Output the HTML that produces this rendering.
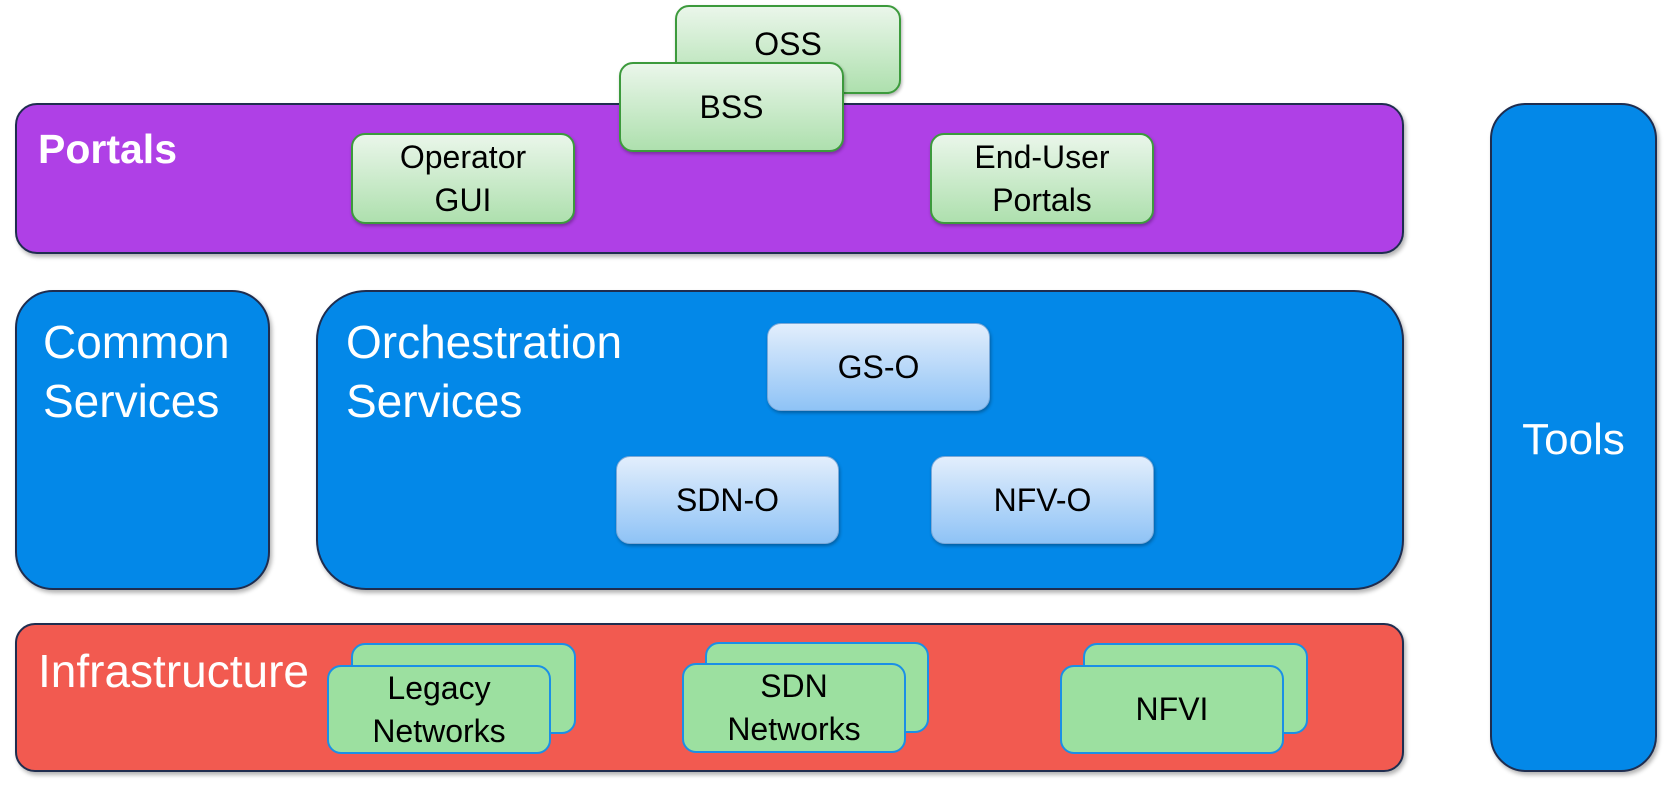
<!DOCTYPE html>
<html><head><meta charset="utf-8"><style>
body{margin:0;width:1678px;height:788px;background:#fff;position:relative;overflow:hidden;font-family:"Liberation Sans",sans-serif}
.b{position:absolute;box-sizing:border-box;border:2px solid #1f2d4f;box-shadow:2px 3px 4px rgba(0,0,0,.3)}
.g{position:absolute;box-sizing:border-box;border:2px solid #3c9a3c;border-radius:14px;background:linear-gradient(#eaf6ea,#aee0ae);display:flex;align-items:center;justify-content:center;text-align:center;font-size:32px;line-height:43px;color:#000;box-shadow:1px 2px 3px rgba(0,0,0,.3)}
.s{position:absolute;box-sizing:border-box;border:1px solid #7aa8d8;border-radius:14px;background:linear-gradient(#e2eefc,#8fc3f6);display:flex;align-items:center;justify-content:center;font-size:32px;color:#000;box-shadow:1px 2px 3px rgba(0,0,0,.3)}
.n{position:absolute;box-sizing:border-box;border:2px solid #1b8fe6;border-radius:14px;background:#9ce0a0;display:flex;align-items:center;justify-content:center;text-align:center;font-size:32px;line-height:43px;color:#000}
.t{position:absolute;color:#fff;font-size:46px;line-height:59px;white-space:nowrap}
</style></head><body>
<div class="b" style="left:15px;top:103px;width:1389px;height:151px;border-radius:22px;background:#af40e6"></div>
<div class="t" style="left:38px;top:120px;font-weight:bold;font-size:41px">Portals</div>
<div class="g" style="left:675px;top:5px;width:226px;height:89px;align-items:flex-start;padding-top:16px">OSS</div>
<div class="g" style="left:619px;top:62px;width:225px;height:90px">BSS</div>
<div class="g" style="left:351px;top:133px;width:224px;height:91px">Operator<br>GUI</div>
<div class="g" style="left:930px;top:133px;width:224px;height:91px">End-User<br>Portals</div>

<div class="b" style="left:15px;top:290px;width:255px;height:300px;border-radius:38px;background:#0388e8"></div>
<div class="t" style="left:43px;top:313px">Common<br>Services</div>
<div class="b" style="left:316px;top:290px;width:1088px;height:300px;border-radius:50px;background:#0388e8"></div>
<div class="t" style="left:346px;top:313px">Orchestration<br>Services</div>
<div class="s" style="left:767px;top:323px;width:223px;height:88px">GS-O</div>
<div class="s" style="left:616px;top:456px;width:223px;height:88px">SDN-O</div>
<div class="s" style="left:931px;top:456px;width:223px;height:88px">NFV-O</div>

<div class="b" style="left:15px;top:623px;width:1389px;height:149px;border-radius:20px;background:#f25a50"></div>
<div class="t" style="left:38px;top:642px">Infrastructure</div>
<div class="n" style="left:351px;top:643px;width:225px;height:91px"></div>
<div class="n" style="left:327px;top:665px;width:224px;height:89px">Legacy<br>Networks</div>
<div class="n" style="left:705px;top:642px;width:224px;height:91px"></div>
<div class="n" style="left:682px;top:663px;width:224px;height:90px">SDN<br>Networks</div>
<div class="n" style="left:1083px;top:643px;width:225px;height:91px"></div>
<div class="n" style="left:1060px;top:665px;width:224px;height:89px">NFVI</div>

<div class="b" style="left:1490px;top:103px;width:167px;height:669px;border-radius:36px;background:#0388e8"></div>
<div class="t" style="left:1490px;width:167px;text-align:center;top:410px;font-size:44px">Tools</div>
</body></html>
